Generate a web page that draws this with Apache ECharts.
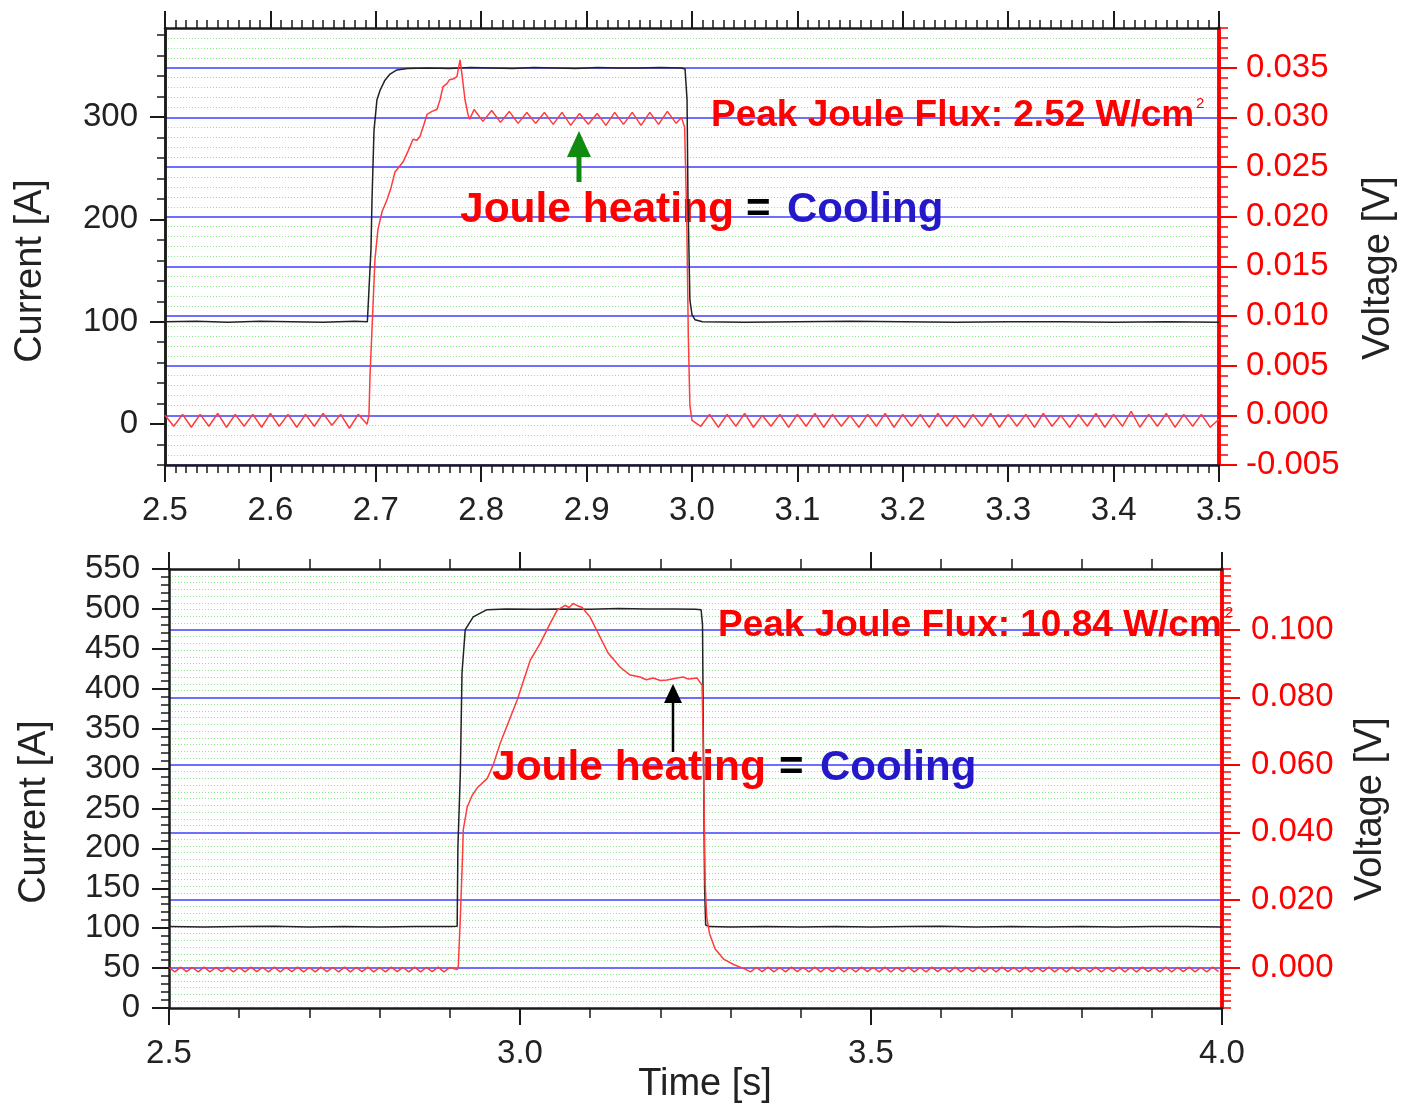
<!DOCTYPE html>
<html><head><meta charset="utf-8">
<script src="https://cdn.jsdelivr.net/npm/echarts@6/dist/echarts.min.js"></script>
<style>html,body{margin:0;padding:0;background:#fff}#c{width:1403px;height:1105px}</style>
</head><body><div id="c"></div>
<script>
// ---------------- DATA ----------------
// sampling step of the mains ripple segments (half a 60 Hz period)
const STEP = 1 / 120;

// Top panel : current [A]
const topCurrentT = [2.50,2.53,2.56,2.59,2.62,2.65,2.68,2.692,2.6935,2.6954,2.6964,2.6983,2.7011,2.704,2.7087,2.7135,2.72,2.73,2.75,2.77,2.79,2.81,2.83,2.85,2.87,2.89,2.91,2.93,2.95,2.97,2.99,2.9934,2.9953,2.9962,2.998,3.0,3.0028,3.01,3.05,3.10,3.15,3.20,3.25,3.30,3.35,3.40,3.45,3.50];
const topCurrentA = [100,100.5,99.5,100.5,100,99.5,100.5,100,101,170,219,287,317,326,336,342,346,347.5,348,347.5,348.5,348,347.5,348.5,348,347.5,348.5,348,348,348.5,348,347,317,219,121,107,102,100,99.5,100,100.5,100,99.5,100,100,99.5,100,99.5];

// Top panel : voltage [V]
const topVoltPreStart = 2.5;
const topVoltPre = [0.0000,-0.0011,0.0001,-0.0012,0.0001,-0.0011,0.0002,-0.0012,0.0001,-0.0011,0.0001,-0.0012,0.0002,-0.0011,0.0001,-0.0012,0.0001,-0.0011,0.0002,-0.0010,0.0001,-0.0013,0.0001,-0.0009];
const topVoltRiseT = [2.6926,2.6935,2.6945,2.6964,2.6992,2.7020,2.7059,2.7106,2.7144,2.7182,2.7220,2.7258,2.7306,2.7353,2.7390,2.7420,2.7457,2.7486,2.7533,2.7580,2.7610,2.7638,2.7675,2.7700,2.7740,2.7770,2.7799,2.7818,2.7846,2.7875,2.7890];
const topVoltRiseV = [-0.0008,0.0000,0.0040,0.0087,0.0157,0.0187,0.0205,0.0217,0.0229,0.0245,0.0250,0.0255,0.0266,0.0278,0.0277,0.0281,0.0293,0.0303,0.0306,0.0308,0.0318,0.0331,0.0334,0.0338,0.0339,0.0341,0.0358,0.0343,0.0318,0.0303,0.0298];
const topVoltPlateauStart = 2.7933;
const topVoltPlateau = [0.0308,0.0296,0.0307,0.0295,0.0306,0.0294,0.0305,0.0294,0.0305,0.0293,0.0305,0.0292,0.0304,0.0293,0.0304,0.0292,0.0305,0.0293,0.0305,0.0292,0.0305,0.0293,0.0306,0.0294];
const topVoltFallT = [2.9900,2.9930,2.9950,2.9965,2.9980,3.0000];
const topVoltFallV = [0.0300,0.0290,0.0200,0.0080,0.0010,-0.0005];
const topVoltPostStart = 3.0083;
const topVoltPost = [-0.0011,0.0001,-0.0012,0.0001,-0.0011,0.0002,-0.0012,0.0000,-0.0011,0.0001,
 -0.0012,0.0001,-0.0011,0.0002,-0.0012,0.0001,-0.0011,0.0000,-0.0012,0.0001,
 -0.0011,0.0002,-0.0012,0.0001,-0.0011,0.0001,-0.0012,0.0002,-0.0011,0.0000,
 -0.0012,0.0001,-0.0011,0.0002,-0.0012,0.0001,-0.0011,0.0001,-0.0012,0.0002,
 -0.0011,0.0000,-0.0012,0.0001,-0.0011,0.0002,-0.0012,0.0001,-0.0011,0.0004,
 -0.0012,0.0001,-0.0011,0.0002,-0.0012,0.0001,-0.0011,0.0001,-0.0012,-0.0004];

// Bottom panel : current [A]
const botCurrentT = [2.50,2.55,2.60,2.65,2.70,2.75,2.80,2.85,2.90,2.9105,2.9115,2.915,2.9174,2.922,2.9334,2.953,2.98,3.02,3.06,3.10,3.14,3.18,3.22,3.25,3.258,3.260,3.2615,3.263,3.2645,3.27,3.30,3.35,3.40,3.45,3.50,3.55,3.60,3.65,3.70,3.75,3.80,3.85,3.90,3.95,4.00];
const botCurrentA = [102,101.5,102,102.5,101.5,102,101.5,102,102,102.5,200,294,420,474,490,499,500,499.5,500,499.5,500.5,500,500,499.5,499,480,300,150,104,102,101.5,102,101.5,102,101.5,102,102.5,101.5,102,101.5,102,101.5,102,102,101.5];

// Bottom panel : voltage [V]
const botVoltPreStart = 2.5;
const botVoltPre = [0.0000,-0.0013,0.0001,-0.0012,0.0000,-0.0013,0.0001,-0.0013,0.0000,-0.0012,
 0.0001,-0.0013,0.0000,-0.0013,0.0001,-0.0012,0.0000,-0.0013,0.0001,-0.0013,
 0.0000,-0.0012,0.0001,-0.0013,0.0000,-0.0013,0.0001,-0.0012,0.0000,-0.0013,
 0.0001,-0.0013,0.0000,-0.0012,0.0001,-0.0013,0.0000,-0.0013,0.0001,-0.0012,
 0.0000,-0.0013,0.0001,-0.0013,0.0000,-0.0012,0.0001,-0.0013,0.0000];
const botVoltPulseT = [2.9105,2.9121,2.9149,2.9178,2.9192,2.9249,2.9320,2.9391,2.9534,2.9619,2.9719,2.9960,3.0146,3.0288,3.0430,3.0530,3.0644,3.0700,3.0758,3.0820,3.0886,3.1000,3.1142,3.1256,3.1427,3.1569,3.1711,3.1800,3.1896,3.2000,3.2096,3.2200,3.2324,3.2400,3.2523,3.2594,3.2615,3.2637,3.2660,3.2700,3.2780,3.2900,3.3050,3.3200];
const botVoltPulseV = [-0.0006,0.0003,0.0142,0.0310,0.0408,0.0476,0.0510,0.0532,0.0560,0.0600,0.0665,0.0792,0.0910,0.0960,0.1019,0.1058,0.1072,0.1066,0.1078,0.1071,0.1066,0.1037,0.0978,0.0931,0.0889,0.0866,0.0860,0.0852,0.0857,0.0850,0.0851,0.0856,0.0860,0.0854,0.0857,0.0836,0.0600,0.0250,0.0150,0.0100,0.0055,0.0025,0.0008,-0.0004];
const botVoltPostStart = 3.3283;
const botVoltPost = [-0.0013,0.0000,-0.0012,0.0001,-0.0013,0.0000,-0.0013,0.0001,-0.0012,0.0000,
 -0.0013,0.0001,-0.0013,0.0000,-0.0012,0.0001,-0.0013,0.0000,-0.0013,0.0001,
 -0.0012,0.0000,-0.0013,0.0001,-0.0013,0.0000,-0.0012,0.0001,-0.0013,0.0000,
 -0.0013,0.0001,-0.0012,0.0000,-0.0013,0.0001,-0.0013,0.0000,-0.0012,0.0001,
 -0.0013,0.0000,-0.0013,0.0001,-0.0012,0.0000,-0.0013,0.0001,-0.0013,0.0000,
 -0.0012,0.0001,-0.0013,0.0000,-0.0013,0.0001,-0.0012,0.0000,-0.0013,0.0001,
 -0.0013,0.0000,-0.0012,0.0001,-0.0013,0.0000,-0.0013,0.0001,-0.0012,0.0000,
 -0.0013,0.0001,-0.0013,0.0000,-0.0012,0.0001,-0.0013,0.0000,-0.0013,0.0001,
 -0.0012];

// Tick labels
const topCurrentTicks = [0, 100, 200, 300];
const topVoltTicks = [-0.005, 0, 0.005, 0.010, 0.015, 0.020, 0.025, 0.030, 0.035];
const botVoltTicks = [0, 0.02, 0.04, 0.06, 0.08, 0.10];

// ---------------- BUILD ----------------
function pairs(T, V) { return T.map((t, i) => [t, V[i]]); }
function sampled(start, V) { return V.map((v, i) => [start + i * STEP, v]); }
function range(a, b, s) { const r = []; const n = Math.round((b - a) / s); for (let i = 0; i <= n; i++) r.push(+(a + i * s).toFixed(6)); return r; }

const topVolt = [].concat(sampled(topVoltPreStart, topVoltPre), pairs(topVoltRiseT, topVoltRiseV),
  sampled(topVoltPlateauStart, topVoltPlateau), pairs(topVoltFallT, topVoltFallV), sampled(topVoltPostStart, topVoltPost));
const botVolt = [].concat(sampled(botVoltPreStart, botVoltPre), pairs(botVoltPulseT, botVoltPulseV), sampled(botVoltPostStart, botVoltPost));

const FONT = '"Liberation Sans", Arial, Helvetica, sans-serif';
const BLACK = '#1a1a1a';
const RED = '#ff0000';
const BLUE_GRID = '#6e6eff';
const GREEN_GRID = '#8fe68f';
const LABEL_SIZE = 33;

function xAxisCfg(grid, min, max, interval, minorSplit, minorLen, showLabel, pos) {
  return {
    type: 'value', gridIndex: grid, min: min, max: max, interval: interval, position: pos, z: 5,
    axisLine: { show: true, onZero: false, lineStyle: { color: BLACK, width: 2.5 } },
    axisTick: { show: true, length: 17, lineStyle: { color: BLACK, width: 2 } },
    minorTick: { show: true, splitNumber: minorSplit, length: minorLen, lineStyle: { color: BLACK, width: 1.5 } },
    axisLabel: { show: showLabel, fontSize: LABEL_SIZE, fontFamily: FONT, color: '#222', margin: 29, formatter: v => v.toFixed(1) },
    splitLine: { show: false }
  };
}

const option = {
  animation: false,
  backgroundColor: '#fff',
  grid: [
    { left: 165, top: 28, width: 1054, height: 437, containLabel: false },
    { left: 169, top: 569, width: 1053, height: 439, containLabel: false }
  ],
  xAxis: [
    xAxisCfg(0, 2.5, 3.5, 0.1, 10, 8, true, 'bottom'),
    xAxisCfg(0, 2.5, 3.5, 0.1, 10, 8, false, 'top'),
    xAxisCfg(1, 2.5, 4.0, 0.5, 5, 10, true, 'bottom'),
    xAxisCfg(1, 2.5, 4.0, 0.5, 5, 10, false, 'top')
  ],
  yAxis: [
    // 0: top current, major ticks + labels
    { type: 'value', gridIndex: 0, position: 'left', min: -40, max: 387, z: 5,
      axisLine: { show: true, onZero: false, lineStyle: { color: BLACK, width: 2.5 } },
      axisTick: { show: true, length: 15, customValues: topCurrentTicks, lineStyle: { color: BLACK, width: 2 } },
      axisLabel: { show: true, customValues: topCurrentTicks, fontSize: LABEL_SIZE, fontFamily: FONT, color: '#222', margin: 27 },
      splitLine: { show: false } },
    // 1: top current, minor ticks
    { type: 'value', gridIndex: 0, position: 'left', min: -40, max: 387, z: 5,
      axisLine: { show: true, onZero: false, lineStyle: { color: BLACK, width: 2.5 } },
      axisTick: { show: true, length: 8, customValues: range(-40, 380, 20), lineStyle: { color: BLACK, width: 1.5 } },
      axisLabel: { show: false }, splitLine: { show: false } },
    // 2: top voltage, major
    { type: 'value', gridIndex: 0, position: 'right', min: -0.005, max: 0.039, z: 2,
      axisLine: { show: true, onZero: false, lineStyle: { color: RED, width: 3.5 } },
      axisTick: { show: true, length: 18, customValues: topVoltTicks, lineStyle: { color: RED, width: 2 } },
      axisLabel: { show: true, customValues: topVoltTicks, fontSize: LABEL_SIZE, fontFamily: FONT, color: RED, margin: 27, formatter: v => v.toFixed(3) },
      splitLine: { show: true, lineStyle: { color: BLUE_GRID, width: 2 } } },
    // 3: top voltage, minor
    { type: 'value', gridIndex: 0, position: 'right', min: -0.005, max: 0.039, z: 1,
      axisLine: { show: true, onZero: false, lineStyle: { color: RED, width: 3.5 } },
      axisTick: { show: true, length: 9, customValues: range(-0.005, 0.039, 0.001), lineStyle: { color: RED, width: 1.5 } },
      axisLabel: { show: false },
      splitLine: { show: true, lineStyle: { color: GREEN_GRID, width: 1, type: [1, 2] } } },
    // 4: bottom current
    { type: 'value', gridIndex: 1, position: 'left', min: 0, max: 550, interval: 50, z: 5,
      axisLine: { show: true, onZero: false, lineStyle: { color: BLACK, width: 2.5 } },
      axisTick: { show: true, length: 17, lineStyle: { color: BLACK, width: 2 } },
      minorTick: { show: true, splitNumber: 5, length: 8, lineStyle: { color: BLACK, width: 1.5 } },
      axisLabel: { show: true, fontSize: LABEL_SIZE, fontFamily: FONT, color: '#222', margin: 29 },
      splitLine: { show: false } },
    // 5: bottom voltage, major
    { type: 'value', gridIndex: 1, position: 'right', min: -0.012, max: 0.118, z: 2,
      axisLine: { show: true, onZero: false, lineStyle: { color: RED, width: 3.5 } },
      axisTick: { show: true, length: 18, customValues: botVoltTicks, lineStyle: { color: RED, width: 2 } },
      axisLabel: { show: true, customValues: botVoltTicks, fontSize: LABEL_SIZE, fontFamily: FONT, color: RED, margin: 29, formatter: v => v.toFixed(3) },
      splitLine: { show: true, lineStyle: { color: BLUE_GRID, width: 2 } } },
    // 6: bottom voltage, minor
    { type: 'value', gridIndex: 1, position: 'right', min: -0.012, max: 0.118, z: 1,
      axisLine: { show: true, onZero: false, lineStyle: { color: RED, width: 3.5 } },
      axisTick: { show: true, length: 9, customValues: range(-0.012, 0.118, 0.002), lineStyle: { color: RED, width: 1.5 } },
      axisLabel: { show: false },
      splitLine: { show: true, lineStyle: { color: GREEN_GRID, width: 1, type: [1, 2] } } }
  ],
  series: [
    { type: 'line', name: 'Current top', xAxisIndex: 0, yAxisIndex: 0, data: pairs(topCurrentT, topCurrentA),
      showSymbol: false, symbol: 'none', z: 6, lineStyle: { color: '#222', width: 1.5 } },
    { type: 'line', name: 'Voltage top', xAxisIndex: 0, yAxisIndex: 2, data: topVolt,
      showSymbol: false, symbol: 'none', z: 6, lineStyle: { color: '#ff3b3b', width: 1.5 } },
    { type: 'line', name: 'Current bottom', xAxisIndex: 2, yAxisIndex: 4, data: pairs(botCurrentT, botCurrentA),
      showSymbol: false, symbol: 'none', z: 6, lineStyle: { color: '#222', width: 1.5 } },
    { type: 'line', name: 'Voltage bottom', xAxisIndex: 2, yAxisIndex: 5, data: botVolt,
      showSymbol: false, symbol: 'none', z: 6, lineStyle: { color: '#ff3b3b', width: 1.5 } }
  ],
  graphic: [
    // axis titles
    { type: 'text', x: 31, y: 271, rotation: Math.PI / 2, z: 10,
      style: { text: 'Current [A]', fill: '#222', fontSize: 38, fontFamily: FONT, textAlign: 'center', textVerticalAlign: 'middle' } },
    { type: 'text', x: 1379, y: 268, rotation: Math.PI / 2, z: 10,
      style: { text: 'Voltage [V]', fill: '#222', fontSize: 38, fontFamily: FONT, textAlign: 'center', textVerticalAlign: 'middle' } },
    { type: 'text', x: 35, y: 812, rotation: Math.PI / 2, z: 10,
      style: { text: 'Current [A]', fill: '#222', fontSize: 38, fontFamily: FONT, textAlign: 'center', textVerticalAlign: 'middle' } },
    { type: 'text', x: 1371, y: 809, rotation: Math.PI / 2, z: 10,
      style: { text: 'Voltage [V]', fill: '#222', fontSize: 38, fontFamily: FONT, textAlign: 'center', textVerticalAlign: 'middle' } },
    { type: 'text', x: 705, y: 1085, z: 10,
      style: { text: 'Time [s]', fill: '#222', fontSize: 38, fontFamily: FONT, textAlign: 'center', textVerticalAlign: 'middle' } },

    // top annotations
    { type: 'text', x: 711, y: 116, z: 4,
      style: { text: 'Peak Joule Flux: 2.52 W/cm', fill: RED, fontSize: 37, fontWeight: 'bold', fontFamily: FONT, textAlign: 'left', textVerticalAlign: 'middle' } },
    { type: 'text', x: 1196, y: 104, z: 4,
      style: { text: '2', fill: RED, fontSize: 15, fontFamily: FONT, textAlign: 'left', textVerticalAlign: 'middle' } },
    { type: 'text', x: 460, y: 210, z: 4,
      style: { text: 'Joule heating', fill: RED, fontSize: 42.5, fontWeight: 'bold', fontFamily: FONT, textAlign: 'left', textVerticalAlign: 'middle' } },
    { type: 'text', x: 746, y: 210, z: 4,
      style: { text: '=', fill: '#000', fontSize: 42, fontWeight: 'bold', fontFamily: FONT, textAlign: 'left', textVerticalAlign: 'middle' } },
    { type: 'text', x: 787, y: 210, z: 4,
      style: { text: 'Cooling', fill: '#2418c8', fontSize: 42, fontWeight: 'bold', fontFamily: FONT, textAlign: 'left', textVerticalAlign: 'middle' } },
    { type: 'line', z: 7, shape: { x1: 579, y1: 182, x2: 579, y2: 152 }, style: { stroke: '#118a11', lineWidth: 5 } },
    { type: 'polygon', z: 7, shape: { points: [[579, 131], [567, 157], [591, 157]] }, style: { fill: '#118a11' } },

    // bottom annotations
    { type: 'text', x: 718, y: 626, z: 4,
      style: { text: 'Peak Joule Flux: 10.84 W/cm', fill: RED, fontSize: 37, fontWeight: 'bold', fontFamily: FONT, textAlign: 'left', textVerticalAlign: 'middle' } },
    { type: 'text', x: 1225, y: 613, z: 4,
      style: { text: '2', fill: RED, fontSize: 15, fontFamily: FONT, textAlign: 'left', textVerticalAlign: 'middle' } },
    { type: 'text', x: 492, y: 768, z: 4,
      style: { text: 'Joule heating', fill: RED, fontSize: 42.5, fontWeight: 'bold', fontFamily: FONT, textAlign: 'left', textVerticalAlign: 'middle' } },
    { type: 'text', x: 779, y: 768, z: 4,
      style: { text: '=', fill: '#000', fontSize: 42, fontWeight: 'bold', fontFamily: FONT, textAlign: 'left', textVerticalAlign: 'middle' } },
    { type: 'text', x: 820, y: 768, z: 4,
      style: { text: 'Cooling', fill: '#2418c8', fontSize: 42, fontWeight: 'bold', fontFamily: FONT, textAlign: 'left', textVerticalAlign: 'middle' } },
    { type: 'line', z: 7, shape: { x1: 673, y1: 752, x2: 673, y2: 700 }, style: { stroke: '#000', lineWidth: 2.5 } },
    { type: 'polygon', z: 7, shape: { points: [[673, 684], [664, 703], [682, 703]] }, style: { fill: '#000' } }
  ]
};

const chart = echarts.init(document.getElementById('c'), null, { renderer: 'canvas' });
chart.setOption(option);
</script></body></html>
